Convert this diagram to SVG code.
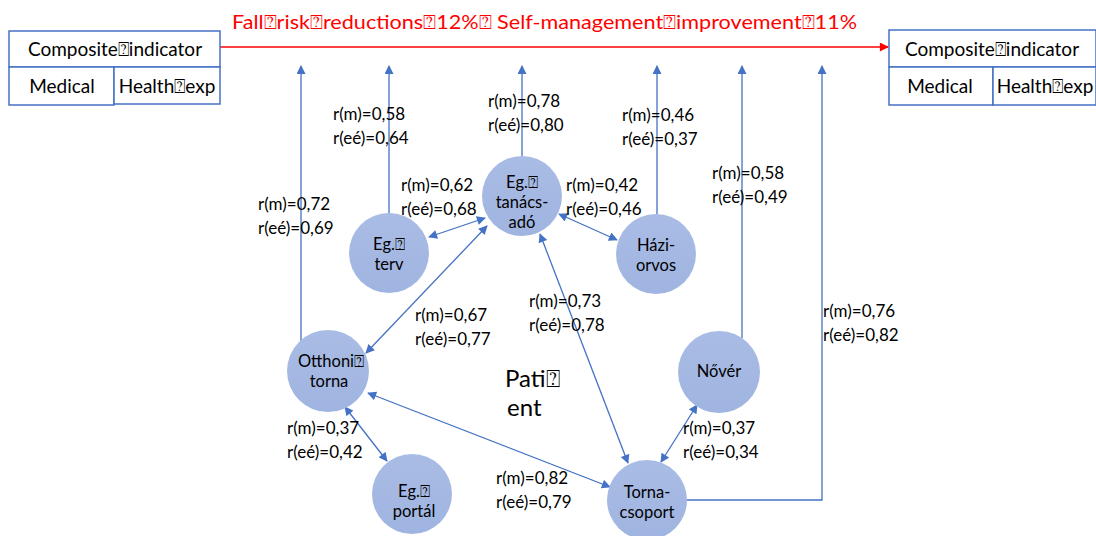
<svg xmlns="http://www.w3.org/2000/svg" width="1096" height="536" viewBox="0 0 1096 536">
  <defs>
    <style>
      .lbl { font-family: Lato, "Open Sans", "Liberation Sans", sans-serif; font-size: 17px; fill: #000; }
      .node-text { font-family: Lato, "Open Sans", "Liberation Sans", sans-serif; font-size: 16.5px; fill: #000; text-anchor: middle; }
      .box-text { font-family: Lato, "Open Sans", "Liberation Sans", sans-serif; font-size: 19px; fill: #000; text-anchor: middle; }
      .cell { fill: #fff; stroke: #4472c4; stroke-width: 1.5; }
      .node { fill: url(#nodeFill); stroke: none; }
      .conn { fill: none; stroke: #4472c4; stroke-width: 1.3; }
      .uni { marker-end: url(#arrowBlue); }
      .bi { marker-start: url(#arrowBlue); marker-end: url(#arrowBlue); }
    </style>
    <linearGradient id="nodeFill" x1="0" y1="0" x2="0" y2="1">
      <stop offset="0" stop-color="#a9bce5"/>
      <stop offset="1" stop-color="#9fb4e0"/>
    </linearGradient>
    <marker id="arrowBlue" viewBox="0 0 10 10" refX="9" refY="5" markerWidth="10" markerHeight="9" markerUnits="userSpaceOnUse" orient="auto-start-reverse">
      <path d="M0,0 L10,5 L0,10 z" fill="#4472c4"/>
    </marker>
    <marker id="arrowRed" viewBox="0 0 10 10" refX="9" refY="5" markerWidth="11" markerHeight="9" markerUnits="userSpaceOnUse" orient="auto">
      <path d="M0,0 L10,5 L0,10 z" fill="#ff0000"/>
    </marker>
  </defs>

  <rect width="1096" height="536" fill="#ffffff"/>

  <!-- outcome headline -->
  <g id="headline">
    <line x1="220" y1="47" x2="888" y2="47" stroke="#ff0000" stroke-width="1.3" marker-end="url(#arrowRed)"/>
    <text x="232" y="29" font-family="Lato, 'Open Sans', 'Liberation Sans', sans-serif" font-size="20" fill="#ff0000" textLength="625" lengthAdjust="spacingAndGlyphs">Fall⍰risk⍰reductions⍰12%⍰ Self-management⍰improvement⍰11%</text>
  </g>

  <!-- indicator tables -->
  <g id="table-left">
    <rect class="cell" x="9" y="31" width="211" height="36"/>
    <rect class="cell" x="9" y="67" width="105" height="38"/>
    <rect class="cell" x="114" y="67" width="106" height="37"/>
    <text class="box-text" x="115" y="56">Composite⍰indicator</text>
    <text class="box-text" x="62" y="93">Medical</text>
    <text class="box-text" x="167" y="93">Health⍰exp</text>
  </g>
  <g id="table-right">
    <rect class="cell" x="889" y="30" width="207" height="37"/>
    <rect class="cell" x="889" y="67" width="104" height="38"/>
    <rect class="cell" x="993" y="67" width="103" height="38"/>
    <text class="box-text" x="992" y="56">Composite⍰indicator</text>
    <text class="box-text" x="940" y="93">Medical</text>
    <text class="box-text" x="1045" y="93">Health⍰exp</text>
  </g>

  <!-- connectors -->
  <g id="connectors">
    <line class="conn uni" x1="301" y1="345" x2="301" y2="66"/>
    <line class="conn uni" x1="389" y1="214" x2="389" y2="66"/>
    <line class="conn uni" x1="522" y1="157" x2="522" y2="66"/>
    <line class="conn uni" x1="657" y1="216" x2="657" y2="66"/>
    <line class="conn uni" x1="742" y1="338" x2="742" y2="66"/>
    <polyline class="conn uni" points="687,500 822,500 822,66"/>
    <line class="conn bi" x1="429" y1="237" x2="485" y2="218"/>
    <line class="conn bi" x1="559" y1="214" x2="617" y2="240"/>
    <line class="conn bi" x1="487" y1="226" x2="366" y2="353"/>
    <line class="conn bi" x1="540" y1="234" x2="628" y2="463"/>
    <line class="conn bi" x1="345" y1="407" x2="387" y2="461"/>
    <line class="conn bi" x1="368" y1="393" x2="610" y2="487"/>
    <line class="conn bi" x1="697" y1="405" x2="661" y2="462"/>
  </g>

  <!-- correlation labels -->
  <g id="labels">
    <text class="lbl" x="333" y="120">r(m)=0,58</text>
    <text class="lbl" x="333" y="144">r(eé)=0,64</text>
    <text class="lbl" x="488" y="107">r(m)=0,78</text>
    <text class="lbl" x="488" y="131">r(eé)=0,80</text>
    <text class="lbl" x="622" y="121">r(m)=0,46</text>
    <text class="lbl" x="622" y="145">r(eé)=0,37</text>
    <text class="lbl" x="401" y="191">r(m)=0,62</text>
    <text class="lbl" x="401" y="215">r(eé)=0,68</text>
    <text class="lbl" x="566" y="191">r(m)=0,42</text>
    <text class="lbl" x="566" y="215">r(eé)=0,46</text>
    <text class="lbl" x="258" y="210">r(m)=0,72</text>
    <text class="lbl" x="258" y="234">r(eé)=0,69</text>
    <text class="lbl" x="712" y="179">r(m)=0,58</text>
    <text class="lbl" x="712" y="203">r(eé)=0,49</text>
    <text class="lbl" x="415" y="321">r(m)=0,67</text>
    <text class="lbl" x="415" y="345">r(eé)=0,77</text>
    <text class="lbl" x="529" y="307">r(m)=0,73</text>
    <text class="lbl" x="529" y="331">r(eé)=0,78</text>
    <text class="lbl" x="823" y="317">r(m)=0,76</text>
    <text class="lbl" x="823" y="341">r(eé)=0,82</text>
    <text class="lbl" x="287" y="434">r(m)=0,37</text>
    <text class="lbl" x="287" y="458">r(eé)=0,42</text>
    <text class="lbl" x="683" y="434">r(m)=0,37</text>
    <text class="lbl" x="683" y="458">r(eé)=0,34</text>
    <text class="lbl" x="496" y="484">r(m)=0,82</text>
    <text class="lbl" x="496" y="508">r(eé)=0,79</text>
  </g>

  <!-- nodes -->
  <g id="node-tanacsado">
    <circle class="node" cx="522" cy="196" r="40"/>
    <text class="node-text" x="522" y="188">Eg.⍰</text>
    <text class="node-text" x="522" y="208">tanács-</text>
    <text class="node-text" x="522" y="228">adó</text>
  </g>
  <g id="node-terv">
    <circle class="node" cx="389" cy="253" r="40"/>
    <text class="node-text" x="389" y="250">Eg.⍰</text>
    <text class="node-text" x="389" y="270">terv</text>
  </g>
  <g id="node-haziorvos">
    <circle class="node" cx="656" cy="254" r="40"/>
    <text class="node-text" x="656" y="251">Házi-</text>
    <text class="node-text" x="656" y="271">orvos</text>
  </g>
  <g id="node-otthoni">
    <circle class="node" cx="328" cy="371" r="41"/>
    <text class="node-text" x="331" y="367">Otthoni⍰</text>
    <text class="node-text" x="329" y="387">torna</text>
  </g>
  <g id="node-portal">
    <circle class="node" cx="412" cy="494" r="40"/>
    <text class="node-text" x="414" y="497">Eg.⍰</text>
    <text class="node-text" x="414" y="517">portál</text>
  </g>
  <g id="node-tornacsoport">
    <circle class="node" cx="647" cy="500" r="40"/>
    <text class="node-text" x="647" y="498">Torna-</text>
    <text class="node-text" x="647" y="518">csoport</text>
  </g>
  <g id="node-nover">
    <circle class="node" cx="719" cy="372" r="41"/>
    <text class="node-text" x="719" y="377">Nővér</text>
  </g>

  <!-- centre caption -->
  <g id="patient">
    <text x="505" y="387" font-family="Lato, 'Open Sans', 'Liberation Sans', sans-serif" font-size="24" fill="#000">Pati⍰</text>
    <text x="507" y="416" font-family="Lato, 'Open Sans', 'Liberation Sans', sans-serif" font-size="24" fill="#000">ent</text>
  </g>
</svg>
